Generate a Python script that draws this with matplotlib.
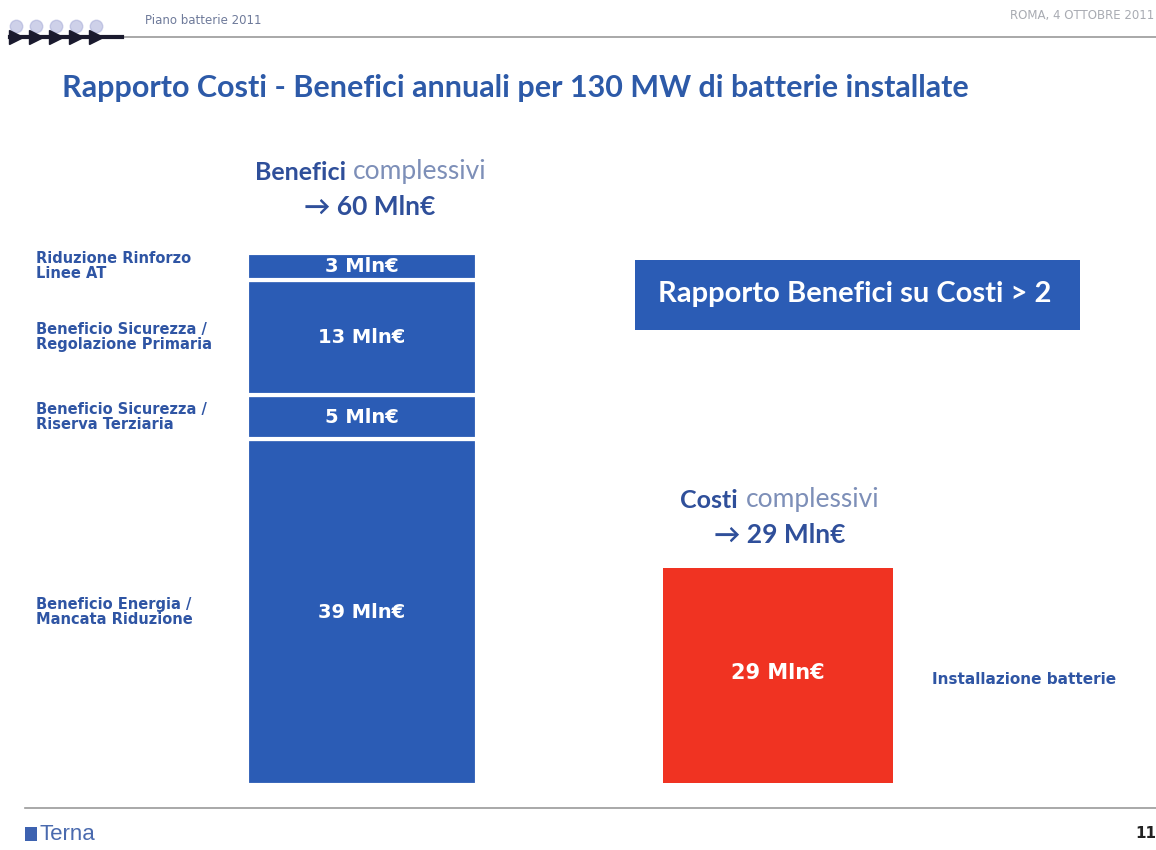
import matplotlib
matplotlib.use("Agg")
import matplotlib.pyplot as plt
from matplotlib.patches import Rectangle

# ---- data ----
benefit_labels = ["Beneficio Energia /\nMancata Riduzione",
                  "Beneficio Sicurezza /\nRiserva Terziaria",
                  "Beneficio Sicurezza /\nRegolazione Primaria",
                  "Riduzione Rinforzo\nLinee AT"]
benefit_values = [39, 5, 13, 3]
cost_labels = ["Installazione batterie"]
cost_values = [29]
benefit_total = 60
cost_total = 29
ratio_text = "Rapporto Benefici su Costi > 2"

BLUE = "#2B5CB5"
RED = "#F03322"
TXT_BLUE = "#2F55A4"
TITLE_BLUE = "#2D5AA8"
HEAD_DARK = "#2F4F9A"
HEAD_LIGHT = "#7D8FB8"

W, H = 1156, 850
fig = plt.figure(figsize=(W / 100, H / 100), dpi=100)
fig.patch.set_facecolor("white")

def fx(x): return x / W
def fy(y): return 1 - y / H

CAL = ["Lato", "DejaVu Sans"]
ARI = ["DejaVu Sans"]

# header
fig.text(fx(145), fy(20), "Piano batterie 2011", fontsize=8.5, color="#6E7A9A",
         family=ARI, va="center", ha="left")
fig.text(fx(1010), fy(16), "ROMA, 4 OTTOBRE 2011", fontsize=8.5, color="#A8ABB2",
         family=ARI, va="center", ha="left")
fig.add_artist(plt.Line2D([fx(120), 1], [fy(37), fy(37)], color="#9A9A9A", lw=1.2))
for i in range(5):
    x0 = 22 + i * 20
    fig.add_artist(plt.Line2D([fx(x0 - 6)], [fy(26)], marker="o", markersize=9,
                              color="#A7ACD8", alpha=0.55, lw=0))
    fig.add_artist(plt.Line2D([fx(x0 - 6)], [fy(37)], marker=">", markersize=10,
                              color="#1A1A2E", lw=0))
fig.add_artist(plt.Line2D([fx(10), fx(122)], [fy(37), fy(37)], color="#1A1A2E", lw=3))

# title
fig.text(fx(62), fy(88), "Rapporto Costi - Benefici annuali per 130 MW di batterie installate",
         fontsize=22, fontweight="bold", color=TITLE_BLUE, family=CAL,
         va="center", ha="left")

# ---- benefits stacked bar ----
bx0, bx1, by0, by1 = 247, 477, 253, 785
ax1 = fig.add_axes([fx(bx0), fy(by1), fx(bx1 - bx0), (by1 - by0) / H])
ax1.set_xlim(0, 1)
ax1.set_ylim(0, benefit_total)
ax1.axis("off")
lab_x = (36 - bx0) / (bx1 - bx0)
bottom = 0
for lab, v in zip(benefit_labels, benefit_values):
    ax1.bar(0.5, v, width=1, bottom=bottom, color=BLUE, edgecolor="white",
            linewidth=3)
    ax1.text(0.5, bottom + v / 2, f"{v} Mln€", color="white", fontsize=14,
             fontweight="bold", family=ARI, ha="center", va="center")
    ax1.text(lab_x, bottom + v / 2, lab, color=TXT_BLUE, fontsize=10.5,
             fontweight="bold", family=ARI, ha="left", va="center",
             linespacing=1.0, clip_on=False)
    bottom += v

# benefits header
fig.text(fx(346), fy(172), "Benefici", fontsize=18, fontweight="bold",
         color=HEAD_DARK, family=CAL, ha="right", va="center")
fig.text(fx(353), fy(172), "complessivi", fontsize=19, color=HEAD_LIGHT,
         family=CAL, ha="left", va="center")
fig.text(fx(370), fy(207), f"→ {benefit_total} Mln€", fontsize=19, fontweight="bold",
         color=HEAD_DARK, family=CAL, ha="center", va="center")

# ---- cost bar ----
cx0, cx1, cy0, cy1 = 663, 893, 568, 783
ax2 = fig.add_axes([fx(cx0), fy(cy1), fx(cx1 - cx0), (cy1 - cy0) / H])
ax2.set_xlim(0, 1)
ax2.set_ylim(0, cost_total)
ax2.axis("off")
ax2.bar(0.5, cost_values[0], width=1, color=RED, edgecolor="none")
ax2.text(0.5, cost_values[0] / 2 + 0.4, f"{cost_values[0]} Mln€", color="white",
         fontsize=15, fontweight="bold", family=ARI, ha="center", va="center")
ax2.text((932 - cx0) / (cx1 - cx0), cost_values[0] / 2 - 0.6, cost_labels[0],
         color=TXT_BLUE, fontsize=11, fontweight="bold", family=ARI,
         ha="left", va="center", clip_on=False)

fig.text(fx(738), fy(500), "Costi", fontsize=18, fontweight="bold",
         color=HEAD_DARK, family=CAL, ha="right", va="center")
fig.text(fx(746), fy(500), "complessivi", fontsize=19, color=HEAD_LIGHT,
         family=CAL, ha="left", va="center")
fig.text(fx(780), fy(535), f"→ {cost_total} Mln€", fontsize=19, fontweight="bold",
         color=HEAD_DARK, family=CAL, ha="center", va="center")

# ratio box
fig.add_artist(Rectangle((fx(635), fy(330)), fx(1080 - 635), (330 - 260) / H,
                         facecolor=BLUE, edgecolor="none", transform=fig.transFigure))
fig.text(fx(855), fy(294), ratio_text, fontsize=21, fontweight="bold", color="white",
         family=CAL, ha="center", va="center")

# footer
fig.add_artist(plt.Line2D([fx(25), 1], [fy(808), fy(808)], color="#9A9A9A", lw=1.2))
fig.add_artist(Rectangle((fx(25), fy(841)), fx(12), 14 / H, facecolor="#3D62B0",
                         edgecolor="none", transform=fig.transFigure))
fig.text(fx(39), fy(834), "Terna", fontsize=16, color="#4A6AAE",
         family=["Liberation Sans", "DejaVu Sans"], ha="left", va="center")
fig.text(fx(1156), fy(834), "11", fontsize=11, fontweight="bold", color="#222222",
         family=ARI, ha="right", va="center")

fig.savefig("out.png", dpi=100, facecolor="white")
